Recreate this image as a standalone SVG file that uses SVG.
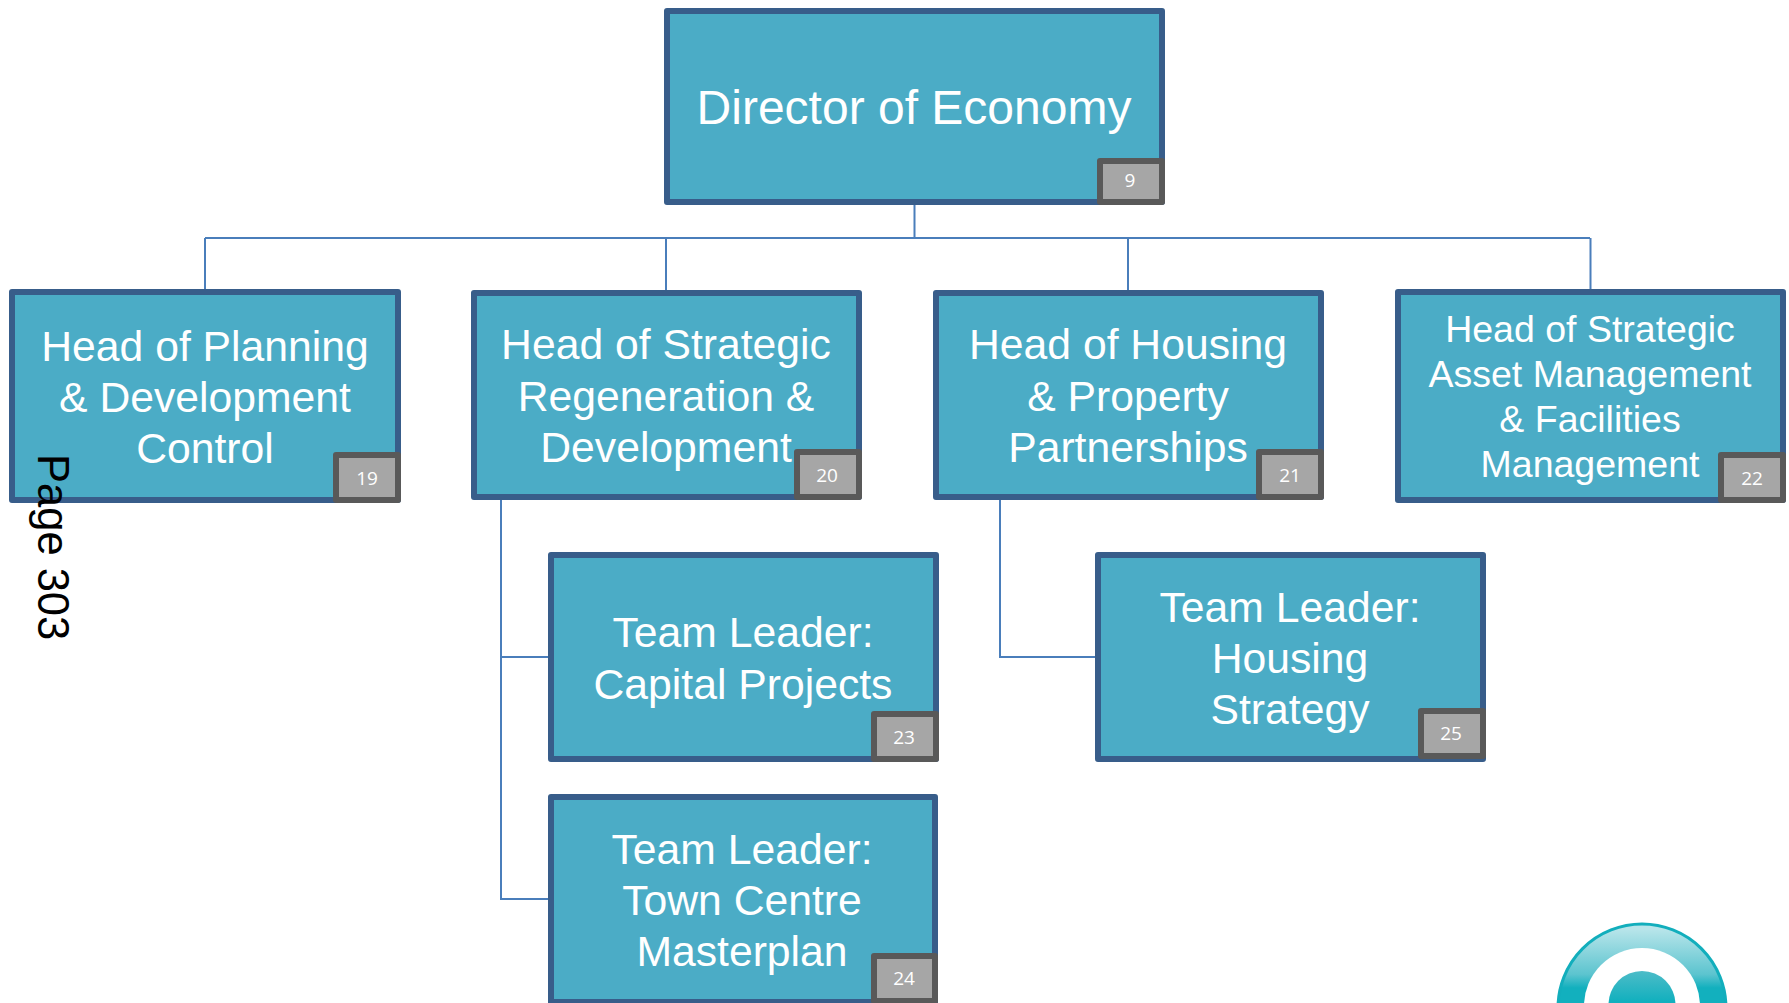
<svg xmlns="http://www.w3.org/2000/svg" width="1789" height="1003" viewBox="0 0 1789 1003">
<style>
.box{fill:#4bacc6;stroke:#385d8a;stroke-width:6;stroke-linejoin:round}
.badge{fill:#a6a6a6;stroke:#595959;stroke-width:6;stroke-linejoin:round}
.t{font-family:"Liberation Sans",Arial,sans-serif;fill:#fff;text-anchor:middle}
.b{font-family:"Open Sans","Noto Sans",sans-serif;font-size:19px;fill:#fff;text-anchor:middle}
.l{fill:none;stroke:#4a7ebb;stroke-width:2}
</style>
<defs>
<linearGradient id="ring" x1="0" y1="0" x2="0" y2="1"><stop offset="0.03" stop-color="#b8e5ea"/><stop offset="0.3" stop-color="#5cc4cf"/><stop offset="0.38" stop-color="#12b0be"/></linearGradient>
<linearGradient id="disc" x1="0" y1="0" x2="0" y2="1"><stop offset="0" stop-color="#4dbcc8"/><stop offset="0.45" stop-color="#12b0be"/></linearGradient>
</defs>
<rect width="1789" height="1003" fill="#fff"/>
<g id="connectors">
<path class="l" d="M914.500 205V238M205 238H1590M205 238V290M666 238V291M1128 238V291M1590.500 238V290"/>
<path class="l" d="M501 498V899H549M501 657H549M1000 498V657H1096"/>
</g>
<g id="director"><rect class="box" x="667" y="11" width="495" height="191"/><text class="t" font-size="48" x="914" y="124">Director of Economy</text><rect class="badge" x="1100" y="161" width="62" height="41"/><text class="b" x="1130" y="187">9</text></g>
<g id="head-planning"><rect class="box" x="12" y="292" width="386" height="208"/><text class="t" font-size="42.700" x="205"><tspan x="205" y="361">Head of Planning</tspan><tspan x="205" y="412">&amp; Development</tspan><tspan x="205" y="463">Control</tspan></text><rect class="badge" x="336" y="455" width="62" height="45"/><text class="b" x="367" y="485">19</text></g>
<g id="head-regeneration"><rect class="box" x="474" y="293" width="385" height="204"/><text class="t" font-size="42.700" x="666"><tspan x="666" y="359">Head of Strategic</tspan><tspan x="666" y="411">Regeneration &amp;</tspan><tspan x="666" y="462">Development</tspan></text><rect class="badge" x="797" y="452" width="62" height="45"/><text class="b" x="827" y="482">20</text></g>
<g id="head-housing"><rect class="box" x="936" y="293" width="385" height="204"/><text class="t" font-size="42.700" x="1128"><tspan x="1128" y="359">Head of Housing</tspan><tspan x="1128" y="411">&amp; Property</tspan><tspan x="1128" y="462">Partnerships</tspan></text><rect class="badge" x="1259" y="452" width="62" height="45"/><text class="b" x="1290" y="482">21</text></g>
<g id="head-asset"><rect class="box" x="1398" y="292" width="385" height="208"/><text class="t" font-size="37.500" x="1590"><tspan x="1590" y="342">Head of Strategic</tspan><tspan x="1590" y="387">Asset Management</tspan><tspan x="1590" y="432">&amp; Facilities</tspan><tspan x="1590" y="477">Management</tspan></text><rect class="badge" x="1721" y="455" width="62" height="45"/><text class="b" x="1752" y="485">22</text></g>
<g id="tl-capital"><rect class="box" x="551" y="555" width="385" height="204"/><text class="t" font-size="42.700" x="743"><tspan x="743" y="647">Team Leader:</tspan><tspan x="743" y="699">Capital Projects</tspan></text><rect class="badge" x="874" y="714" width="62" height="45"/><text class="b" x="904" y="744">23</text></g>
<g id="tl-housing"><rect class="box" x="1098" y="555" width="385" height="204"/><text class="t" font-size="42.700" x="1290"><tspan x="1290" y="622">Team Leader:</tspan><tspan x="1290" y="673">Housing</tspan><tspan x="1290" y="724">Strategy</tspan></text><rect class="badge" x="1421" y="711" width="62" height="45"/><text class="b" x="1451" y="740">25</text></g>
<g id="tl-town"><rect class="box" x="551" y="797" width="384" height="205"/><text class="t" font-size="42.700" x="742"><tspan x="742" y="864">Team Leader:</tspan><tspan x="742" y="915">Town Centre</tspan><tspan x="742" y="966">Masterplan</tspan></text><rect class="badge" x="874" y="956" width="61" height="45"/><text class="b" x="904" y="985">24</text></g>
<text id="page" font-family="'Liberation Sans',Arial,sans-serif" font-size="43.500" fill="#000" transform="translate(37.500 454) rotate(90)">Page 303</text>
<g id="logo">
<circle cx="1642" cy="1008" r="84" fill="url(#ring)" stroke="#12aebc" stroke-width="3"/>
<circle cx="1642" cy="1006" r="58" fill="#fff"/>
<circle cx="1642" cy="1004.500" r="33.500" fill="url(#disc)"/>
</g>
</svg>
